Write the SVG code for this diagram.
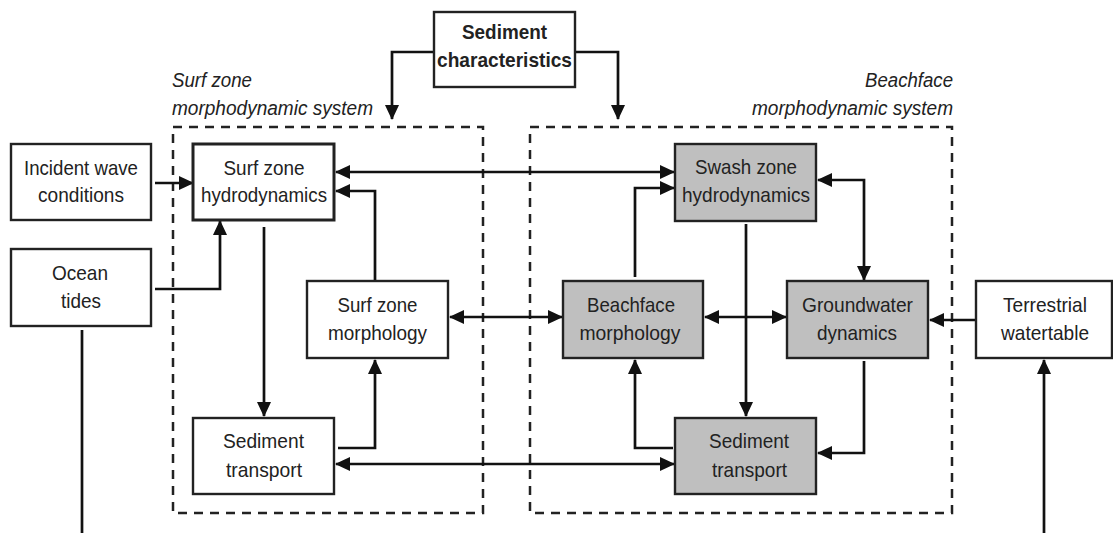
<svg xmlns="http://www.w3.org/2000/svg" width="1113" height="533" viewBox="0 0 1113 533">
<style>
.box{fill:#fff;stroke:#222;stroke-width:2.4}
.gray{fill:#bfbfbf;stroke:#222;stroke-width:2.4}
.thick{stroke-width:3}
.t{font-family:"Liberation Sans",Arial,sans-serif;font-size:21px;fill:#222;text-anchor:middle}
.b{font-weight:bold}
.lbl{font-family:"Liberation Sans",Arial,sans-serif;font-size:20px;font-style:italic;fill:#222}
.dash{fill:none;stroke:#222;stroke-width:2.5;stroke-dasharray:9,7}
.c{fill:none;stroke:#111;stroke-width:2.7}
.a{marker-end:url(#ah)}
.d{marker-start:url(#ah);marker-end:url(#ah)}
</style>
<defs>
<marker id="ah" markerUnits="userSpaceOnUse" markerWidth="15" markerHeight="14" refX="14" refY="7" orient="auto-start-reverse">
<path d="M0,0 L15,7 L0,14 z" fill="#111"/>
</marker>
</defs>
<rect width="1113" height="533" fill="#fff"/>

<g id="systems">
<rect class="dash" x="173" y="127" width="310" height="386"/>
<rect class="dash" x="530" y="127" width="422" height="386"/>
<text class="lbl" x="172" y="87" textLength="80" lengthAdjust="spacingAndGlyphs">Surf zone</text>
<text class="lbl" x="172" y="115" textLength="201" lengthAdjust="spacingAndGlyphs">morphodynamic system</text>
<text class="lbl" x="953" y="87" text-anchor="end" textLength="88" lengthAdjust="spacingAndGlyphs">Beachface</text>
<text class="lbl" x="953" y="115" text-anchor="end" textLength="201" lengthAdjust="spacingAndGlyphs">morphodynamic system</text>
</g>

<g id="connectors">
<path class="c a" d="M155,183 H193"/>
<path class="c a" d="M155,289 H220 V221"/>
<path class="c" d="M82,330 V533"/>
<path class="c a" d="M434,52 H392 V119"/>
<path class="c a" d="M575,52 H618 V119"/>
<path class="c d" d="M336,172 H674"/>
<path class="c a" d="M264,227 V416"/>
<path class="c a" d="M375,281 V191 H336"/>
<path class="c a" d="M338,448 H375 V360"/>
<path class="c d" d="M336,464 H674"/>
<path class="c d" d="M450,317 H562"/>
<path class="c a" d="M635,277 V188 H674"/>
<path class="c d" d="M705,317 H786"/>
<path class="c a" d="M746,224 V416"/>
<path class="c d" d="M818,180 H864 V280"/>
<path class="c a" d="M976,320 H930"/>
<path class="c a" d="M864,361 V453 H818"/>
<path class="c a" d="M673,448 H635 V360"/>
<path class="c a" d="M1044,533 V360"/>
</g>

<g id="sediment-characteristics">
<rect class="box" x="434" y="12" width="141" height="75"/>
<text class="t b" x="504.5" y="39" textLength="85" lengthAdjust="spacingAndGlyphs">Sediment</text>
<text class="t b" x="504.5" y="67" textLength="135" lengthAdjust="spacingAndGlyphs">characteristics</text>
</g>
<g id="incident-wave">
<rect class="box" x="11" y="144" width="140" height="76"/>
<text class="t" x="81" y="175" textLength="114" lengthAdjust="spacingAndGlyphs">Incident wave</text>
<text class="t" x="81" y="202" textLength="86" lengthAdjust="spacingAndGlyphs">conditions</text>
</g>
<g id="ocean-tides">
<rect class="box" x="11" y="249" width="140" height="77"/>
<text class="t" x="80" y="280" textLength="56" lengthAdjust="spacingAndGlyphs">Ocean</text>
<text class="t" x="81" y="308" textLength="40" lengthAdjust="spacingAndGlyphs">tides</text>
</g>
<g id="surf-hydro">
<rect class="box thick" x="193" y="144" width="141" height="76"/>
<text class="t" x="264" y="175" textLength="81" lengthAdjust="spacingAndGlyphs">Surf zone</text>
<text class="t" x="264" y="202" textLength="126" lengthAdjust="spacingAndGlyphs">hydrodynamics</text>
</g>
<g id="surf-morph">
<rect class="box" x="307" y="281" width="141" height="77"/>
<text class="t" x="377.5" y="312" textLength="80" lengthAdjust="spacingAndGlyphs">Surf zone</text>
<text class="t" x="377.5" y="340" textLength="99" lengthAdjust="spacingAndGlyphs">morphology</text>
</g>
<g id="sed-left">
<rect class="box" x="193" y="418" width="141" height="76"/>
<text class="t" x="263.5" y="448" textLength="81" lengthAdjust="spacingAndGlyphs">Sediment</text>
<text class="t" x="264" y="477" textLength="76" lengthAdjust="spacingAndGlyphs">transport</text>
</g>
<g id="swash">
<rect class="gray" x="675" y="144" width="141" height="77"/>
<text class="t" x="746" y="174" textLength="102" lengthAdjust="spacingAndGlyphs">Swash zone</text>
<text class="t" x="746" y="202" textLength="128" lengthAdjust="spacingAndGlyphs">hydrodynamics</text>
</g>
<g id="beachface-morph">
<rect class="gray" x="563" y="281" width="140" height="77"/>
<text class="t" x="631" y="312" textLength="88" lengthAdjust="spacingAndGlyphs">Beachface</text>
<text class="t" x="630" y="340" textLength="101" lengthAdjust="spacingAndGlyphs">morphology</text>
</g>
<g id="groundwater">
<rect class="gray" x="787" y="281" width="141" height="77"/>
<text class="t" x="857.5" y="312" textLength="111" lengthAdjust="spacingAndGlyphs">Groundwater</text>
<text class="t" x="857" y="340" textLength="80" lengthAdjust="spacingAndGlyphs">dynamics</text>
</g>
<g id="sed-right">
<rect class="gray" x="675" y="418" width="141" height="76"/>
<text class="t" x="749" y="448" textLength="80" lengthAdjust="spacingAndGlyphs">Sediment</text>
<text class="t" x="749.5" y="477" textLength="75" lengthAdjust="spacingAndGlyphs">transport</text>
</g>
<g id="terrestrial">
<rect class="box" x="976" y="281" width="136" height="77"/>
<text class="t" x="1045" y="312" textLength="84" lengthAdjust="spacingAndGlyphs">Terrestrial</text>
<text class="t" x="1045" y="340" textLength="88" lengthAdjust="spacingAndGlyphs">watertable</text>
</g>
</svg>
